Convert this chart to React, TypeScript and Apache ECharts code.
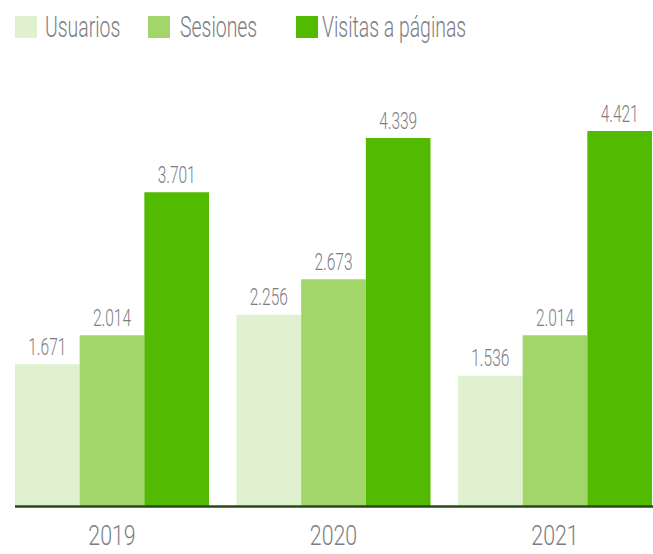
import React, { useEffect, useRef } from "react";
import * as echarts from "echarts";

const categories = ["2019", "2020", "2021"];
const seriesNames = ["Usuarios", "Sesiones", "Visitas a páginas"];
const usuarios = [1671, 2256, 1536];
const sesiones = [2014, 2673, 2014];
const visitas = [3701, 4339, 4421];
const colors = ["#dff1cf", "#a2d66a", "#52ba00"];

const FONT = "Roboto, 'Liberation Sans', sans-serif";
const TEXT_COLOR = "#7c7d84";
const CAT_GAP = 0.124;

const fmt = (v: number) => {
  const s = String(Math.round(v));
  return s.replace(/\B(?=(\d{3})+(?!\d))/g, ".");
};

export default function App() {
  const ref = useRef<HTMLDivElement>(null);
  useEffect(() => {
    if (!ref.current) return;
    const chart = echarts.init(ref.current, undefined, { renderer: "svg" });
    const values = [usuarios, sesiones, visitas];

    const legendRects = [15, 148, 296];
    const legendTexts = [45, 180, 322];
    const legendGraphics: any[] = [];
    seriesNames.forEach((n, i) => {
      legendGraphics.push({
        type: "rect",
        shape: { x: legendRects[i], y: 16, width: 22, height: 22 },
        style: { fill: colors[i] },
      });
      legendGraphics.push({
        type: "text",
        x: legendTexts[i],
        y: 27,
        scaleX: 0.67,
        style: {
          text: n,
          x: 0,
          y: 0,
          fill: TEXT_COLOR,
          font: `300 29px ${FONT}`,
          align: "left",
          verticalAlign: "middle",
        },
      });
    });

    const labelSeries = values.map((vals, k) => ({
      type: "custom",
      name: seriesNames[k] + " label",
      z: 5,
      silent: true,
      data: vals.map((v, i) => [i, v]),
      encode: { x: 0, y: 1 },
      renderItem: (params: any, api: any) => {
        const cat = api.value(0);
        const v = api.value(1);
        const pt = api.coord([cat, v]);
        const cw = api.size([1, 0])[0];
        const gw = cw * (1 - CAT_GAP);
        const bw = gw / 3;
        const x = pt[0] - gw / 2 + bw * (k + 0.5);
        return {
          type: "text",
          x,
          y: pt[1] - 17,
          scaleX: 0.66,
          style: {
            text: fmt(v),
            x: 0,
            y: 0,
            fill: TEXT_COLOR,
            font: `300 23.5px ${FONT}`,
            align: "center",
            verticalAlign: "middle",
          },
        };
      },
    }));

    const catLabelSeries = {
      type: "custom",
      name: "category labels",
      z: 5,
      silent: true,
      data: categories.map((c, i) => [i, 0]),
      encode: { x: 0, y: 1 },
      renderItem: (params: any, api: any) => {
        const i = api.value(0);
        const pt = api.coord([i, 0]);
        return {
          type: "text",
          x: pt[0],
          y: pt[1] + 30,
          scaleX: 0.79,
          style: {
            text: categories[i],
            x: 0,
            y: 0,
            fill: TEXT_COLOR,
            font: `300 27px ${FONT}`,
            align: "center",
            verticalAlign: "middle",
          },
        };
      },
    };

    chart.setOption({
      animation: false,
      backgroundColor: "#ffffff",
      grid: {
        left: 1.25,
        right: -12.75,
        top: 82,
        bottom: 48,
        containLabel: false,
        outerBoundsMode: "none",
      },
      xAxis: {
        type: "category",
        data: categories,
        axisLine: { show: false },
        axisTick: { show: false },
        axisLabel: { show: false },
      },
      yAxis: {
        type: "value",
        min: 0,
        max: 5000,
        show: false,
        splitLine: { show: false },
      },
      series: [
        ...seriesNames.map((n, i) => ({
          name: n,
          type: "bar",
          data: values[i],
          barGap: "0%",
          barCategoryGap: CAT_GAP * 100 + "%",
          itemStyle: { color: colors[i] },
        })),
        ...labelSeries,
        catLabelSeries,
      ],
      graphic: [
        ...legendGraphics,
        {
          type: "line",
          shape: { x1: 15, y1: 506.5, x2: 653, y2: 506.5 },
          style: { stroke: "#264a1c", lineWidth: 2.5 },
          z: 10,
        },
      ],
    });
    return () => chart.dispose();
  }, []);
  return (
    <div
      ref={ref}
      style={{ position: "fixed", left: 0, top: 0, width: 653, height: 554 }}
    />
  );
}
